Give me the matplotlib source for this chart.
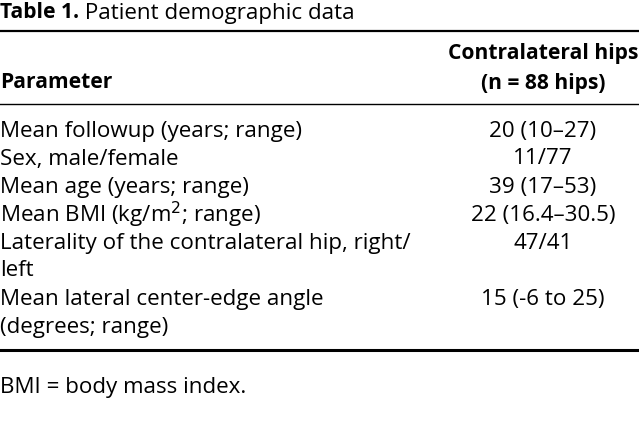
import matplotlib
matplotlib.use("Agg")
import matplotlib.pyplot as plt
from matplotlib.lines import Line2D

title_bold = "Table 1."
title_rest = " Patient demographic data"
col_headers = ["Parameter", ["Contralateral hips", "(n = 88 hips)"]]
parameters = [
    ["Mean followup (years; range)"],
    ["Sex, male/female"],
    ["Mean age (years; range)"],
    ["Mean BMI (kg/m$^2$; range)"],
    ["Laterality of the contralateral hip, right/", "left"],
    ["Mean lateral center-edge angle", "(degrees; range)"],
]
values = ["20 (10\u201327)", "11/77", "39 (17\u201353)", "22 (16.4\u201330.5)", "47/41", "15 (-6 to 25)"]
footnote = "BMI = body mass index."

W, H = 639, 429
fig = plt.figure(figsize=(W / 100, H / 100), dpi=100)
fig.patch.set_facecolor("white")
FONT = "Open Sans"
FS = 16.1
FSB = 15.1
LINE = 27
VX = 543

def px(x, y):
    return x / W, 1 - y / H

def hline(y, lw):
    fig.add_artist(Line2D([0, 1], [1 - y / H] * 2, transform=fig.transFigure, color="black", lw=lw))

t1 = fig.text(*px(0, 13), title_bold, fontsize=FSB, fontweight="bold", family=FONT, va="center", ha="left")
fig.canvas.draw()
bb = t1.get_window_extent()
fig.text(bb.x1 / W, 1 - 13 / H, title_rest, fontsize=FS, family=FONT, va="center", ha="left")

hline(31, 1.6)
fig.text(*px(0, 83), col_headers[0], fontsize=FSB, fontweight="bold", family=FONT, va="center", ha="left")
for i, line in enumerate(col_headers[1]):
    fig.text(*px(VX, 54 + i * 29), line, fontsize=FSB, fontweight="bold", family=FONT, va="center", ha="center")
hline(104, 1.0)

row_y = [129, 157, 185, 213, 242, 298]
for p, v, y in zip(parameters, values, row_y):
    for i, line in enumerate(p):
        fig.text(*px(0, y + 2 + i * LINE), line, fontsize=FS, family=FONT, va="center", ha="left")
    fig.text(*px(VX, y + 2), v, fontsize=FS, family=FONT, va="center", ha="center")

hline(350, 2.2)
fig.text(*px(0, 387), footnote, fontsize=FS, family=FONT, va="center", ha="left")

fig.savefig("out.png", dpi=100, facecolor="white")
